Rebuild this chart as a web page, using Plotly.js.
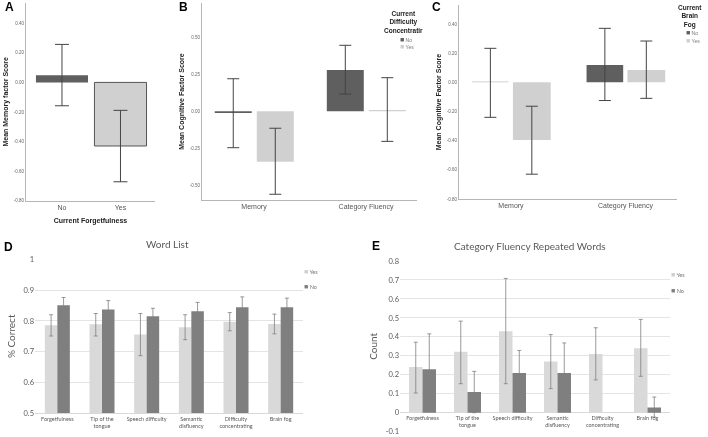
<!DOCTYPE html>
<html><head><meta charset="utf-8">
<script src="https://cdn.plot.ly/plotly-3.0.1.min.js"></script>
<style>body{margin:0;background:#fff}#chart{width:708px;height:437px;opacity:0.999;will-change:transform}</style>
</head><body><div id="chart"></div>
<script>
// ---------- data ----------
const catsA = ['No', 'Yes'];
const aMean = [0.048, -0.43];
const aHi = [0.257, -0.189];
const aLo = [-0.158, -0.672];

const catsBC = ['Memory', 'Category Fluency'];
const bNo = [-0.012, 0.28];
const bNoHi = [0.221, 0.448];
const bNoLo = [-0.247, 0.117];
const bYes = [-0.342, 0.009];
const bYesHi = [-0.115, 0.228];
const bYesLo = [-0.563, -0.204];

const cNo = [0.006, 0.119];
const cNoHi = [0.233, 0.37];
const cNoLo = [-0.24, -0.125];
const cYes = [-0.395, 0.085];
const cYesHi = [-0.164, 0.283];
const cYesLo = [-0.63, -0.11];

const cats6 = ['Forgetfulness', 'Tip of the<br>tongue', 'Speech difficulty', 'Semantic<br>disfluency', 'Difficulty<br>concentrating', 'Brain fog'];
const dYes = [0.786, 0.789, 0.756, 0.779, 0.797, 0.790];
const dYesHi = [0.820, 0.824, 0.824, 0.820, 0.827, 0.822];
const dYesLo = [0.751, 0.751, 0.687, 0.739, 0.768, 0.758];
const dNo = [0.851, 0.837, 0.815, 0.831, 0.844, 0.844];
const dNoHi = [0.876, 0.866, 0.841, 0.860, 0.878, 0.874];
const dNoLo = [0.825, 0.808, 0.786, 0.801, 0.814, 0.816];

const eYes = [0.241, 0.321, 0.430, 0.270, 0.310, 0.340];
const eYesHi = [0.372, 0.483, 0.708, 0.412, 0.448, 0.492];
const eYesLo = [0.104, 0.153, 0.153, 0.127, 0.173, 0.192];
const eNo = [0.229, 0.109, 0.210, 0.210, null, 0.028];
const eNoHi = [0.416, 0.218, 0.328, 0.368, null, 0.083];
const eNoLo = [0.042, 0.0, 0.092, 0.051, null, -0.023];

const tickA = [0.4, 0.2, 0, -0.2, -0.4, -0.6, -0.8];
const tickAText = ['0.40', '0.20', '0.00', '-0.20', '-0.40', '-0.60', '-0.80'];
const tickB = [0.5, 0.25, 0, -0.25, -0.5];
const tickBText = ['0.50', '0.25', '0.00', '-0.25', '-0.50'];
const tickD = [0.5, 0.6, 0.7, 0.8, 0.9, 1];
const tickDText = ['0.5', '0.6', '0.7', '0.8', '0.9', '1'];
const tickE = [-0.1, 0, 0.1, 0.2, 0.3, 0.4, 0.5, 0.6, 0.7, 0.8];
const tickEText = ['-0.1', '0', '0.1', '0.2', '0.3', '0.4', '0.5', '0.6', '0.7', '0.8'];

// ---------- helpers ----------
const W = 708, H = 437;
const px = x => x / W;
const py = y => 1 - y / H;
const plus = (hi, m) => hi.map((v, i) => v == null ? null : v - m[i]);
const minus = (lo, m) => lo.map((v, i) => v == null ? null : m[i] - v);
const err = (hi, lo, m, col, w, th) => ({type: 'data', symmetric: false, array: plus(hi, m), arrayminus: minus(lo, m), color: col, thickness: th, width: w});

const DARK = '#5f5f5f', LIGHT = '#d0d0d0';
const D_LIGHT = '#d9d9d9', D_DARK = '#7f7f7f';
const SPSS = 'Liberation Sans, Arial, sans-serif';
const XL = 'Lato, Open Sans, sans-serif';

const traces = [
  // A
  {type: 'bar', x: catsA, y: aMean, xaxis: 'x', yaxis: 'y', width: 0.89, showlegend: false,
   marker: {color: [DARK, LIGHT], line: {color: ['#5f5f5f', '#555'], width: [0, 1]}},
   error_y: err(aHi, aLo, aMean, '#444', 7, 1)},
  // B
  {type: 'bar', name: 'No', x: catsBC, y: bNo, xaxis: 'x2', yaxis: 'y2', offset: -0.35, width: 0.33, showlegend: false,
   marker: {color: DARK}, error_y: err(bNoHi, bNoLo, bNo, '#444', 6, 1)},
  {type: 'bar', name: 'Yes', x: catsBC, y: bYes, xaxis: 'x2', yaxis: 'y2', offset: 0.025, width: 0.33, showlegend: false,
   marker: {color: LIGHT}, error_y: err(bYesHi, bYesLo, bYes, '#444', 6, 1)},
  // C
  {type: 'bar', name: 'No', x: catsBC, y: cNo, xaxis: 'x3', yaxis: 'y3', offset: -0.34, width: 0.32, showlegend: false,
   marker: {color: ['#c4c4c4', DARK]}, error_y: err(cNoHi, cNoLo, cNo, '#444', 6, 1)},
  {type: 'bar', name: 'Yes', x: catsBC, y: cYes, xaxis: 'x3', yaxis: 'y3', offset: 0.017, width: 0.33, showlegend: false,
   marker: {color: LIGHT}, error_y: err(cYesHi, cYesLo, cYes, '#444', 6, 1)},
  // D
  {type: 'bar', name: 'Yes', x: cats6, y: dYes, xaxis: 'x4', yaxis: 'y4', offset: -0.28, width: 0.28, showlegend: false,
   marker: {color: D_LIGHT}, error_y: err(dYesHi, dYesLo, dYes, '#808080', 2, 0.8)},
  {type: 'bar', name: 'No', x: cats6, y: dNo, xaxis: 'x4', yaxis: 'y4', offset: 0.0, width: 0.28, showlegend: false,
   marker: {color: D_DARK}, error_y: err(dNoHi, dNoLo, dNo, '#808080', 2, 0.8)},
  // E
  {type: 'bar', name: 'Yes', x: cats6, y: eYes, xaxis: 'x5', yaxis: 'y5', offset: -0.3, width: 0.3, showlegend: false,
   marker: {color: D_LIGHT}, error_y: err(eYesHi, eYesLo, eYes, '#808080', 2, 0.8)},
  {type: 'bar', name: 'No', x: cats6, y: eNo, xaxis: 'x5', yaxis: 'y5', offset: 0.0, width: 0.3, showlegend: false,
   marker: {color: D_DARK}, error_y: err(eNoHi, eNoLo, eNo, '#808080', 2, 0.8)}
];

const spssX = (dom, range, anchor, title) => ({
  domain: dom, range: range, anchor: anchor, type: 'category', showgrid: false, zeroline: false,
  showline: true, linecolor: '#b5b5b5', linewidth: 1, ticks: '', fixedrange: true,
  tickfont: {family: SPSS, size: 7, color: '#555'},
  title: title ? {text: title, font: {family: SPSS, size: 7, color: '#222', weight: 'bold'}, standoff: 8} : undefined
});
const spssY = (dom, range, anchor, tv, tt, title) => ({
  domain: dom, range: range, anchor: anchor, showgrid: false, zeroline: false,
  showline: true, linecolor: '#b5b5b5', linewidth: 1, ticks: '', fixedrange: true,
  tickvals: tv, ticktext: tt, tickfont: {family: SPSS, size: 4.5, color: '#666'},
  title: {text: title, font: {family: SPSS, size: 7, color: '#222', weight: 'bold'}, standoff: 4}
});

const sq = (col) => '<span style="color:' + col + ';font-size:7px">■</span>';

const layout = {
  width: W, height: H, margin: {l: 0, r: 0, t: 0, b: 0},
  paper_bgcolor: '#fff', plot_bgcolor: 'rgba(0,0,0,0)',
  barmode: 'overlay', showlegend: false,
  xaxis: spssX([px(26), px(155)], [-0.615, 1.59], 'y', 'Current Forgetfulness'),
  yaxis: spssY([py(200.7), py(3)], [-0.8, 0.537], 'x', tickA, tickAText, 'Mean Memory factor Score'),
  xaxis2: spssX([px(202), px(417)], [-0.464, 1.455], 'y2'),
  yaxis2: spssY([py(200), py(3)], [-0.602, 0.735], 'x2', tickB, tickBText, 'Mean Cognitive Factor Score'),
  xaxis3: spssX([px(459), px(677)], [-0.454, 1.45], 'y3'),
  yaxis3: spssY([py(199), py(5)], [-0.8, 0.53], 'x3', tickA, tickAText, 'Mean Cognitive Factor Score'),
  xaxis4: {domain: [px(35), px(303)], range: [-0.5, 5.5], anchor: 'y4', type: 'category', showgrid: false,
    showline: true, linecolor: '#d9d9d9', ticks: '', fixedrange: true,
    tickfont: {family: XL, size: 5.5, color: '#595959'}},
  yaxis4: {domain: [py(413.3), py(259.3)], range: [0.5, 1], anchor: 'x4', showgrid: true, gridcolor: '#e4e4e4',
    zeroline: false, showline: false, ticks: '', fixedrange: true, tickvals: tickD, ticktext: tickDText,
    tickfont: {family: XL, size: 7.5, color: '#595959'},
    title: {text: '% Correct', font: {family: XL, size: 10, color: '#595959'}, standoff: 6}},
  xaxis5: {domain: [px(400), px(670)], range: [-0.5, 5.5], anchor: 'free', position: py(413.5), type: 'category',
    showgrid: false, showline: false, ticks: '', fixedrange: true,
    tickfont: {family: XL, size: 5.5, color: '#595959'}},
  yaxis5: {domain: [py(431.7), py(261)], range: [-0.1, 0.8], anchor: 'x5', showgrid: true, gridcolor: '#e4e4e4',
    zeroline: true, zerolinecolor: '#d9d9d9', zerolinewidth: 1, showline: false, ticks: '', fixedrange: true,
    tickvals: tickE, ticktext: tickEText,
    tickfont: {family: XL, size: 7.5, color: '#595959'},
    title: {text: 'Count', font: {family: XL, size: 10, color: '#595959'}, standoff: 6}},
  annotations: [
    // panel letters
    {text: '<b>A</b>', x: px(3), y: py(7), xref: 'paper', yref: 'paper', xanchor: 'left', yanchor: 'middle', showarrow: false, font: {family: SPSS, size: 12, color: '#000'}},
    {text: '<b>B</b>', x: px(177), y: py(7), xref: 'paper', yref: 'paper', xanchor: 'left', yanchor: 'middle', showarrow: false, font: {family: SPSS, size: 12, color: '#000'}},
    {text: '<b>C</b>', x: px(430), y: py(7), xref: 'paper', yref: 'paper', xanchor: 'left', yanchor: 'middle', showarrow: false, font: {family: SPSS, size: 12, color: '#000'}},
    {text: '<b>D</b>', x: px(2), y: py(247), xref: 'paper', yref: 'paper', xanchor: 'left', yanchor: 'middle', showarrow: false, font: {family: SPSS, size: 12, color: '#000'}},
    {text: '<b>E</b>', x: px(370), y: py(246), xref: 'paper', yref: 'paper', xanchor: 'left', yanchor: 'middle', showarrow: false, font: {family: SPSS, size: 12, color: '#000'}},
    // chart titles D/E
    {text: 'Word List', x: px(167), y: py(244), xref: 'paper', yref: 'paper', xanchor: 'center', yanchor: 'middle', showarrow: false, font: {family: XL, size: 10, color: '#595959'}},
    {text: 'Category Fluency Repeated Words', x: px(530), y: py(246), xref: 'paper', yref: 'paper', xanchor: 'center', yanchor: 'middle', showarrow: false, font: {family: XL, size: 10, color: '#595959'}},
    // legend B
    {text: '<b>Current<br>Difficulty<br>Concentratir</b>', x: px(403), y: py(22), xref: 'paper', yref: 'paper', xanchor: 'center', yanchor: 'middle', showarrow: false, font: {family: SPSS, size: 6.5, color: '#222'}},
    {text: sq('#5f5f5f') + ' No', x: px(398), y: py(39), xref: 'paper', yref: 'paper', xanchor: 'left', yanchor: 'middle', showarrow: false, font: {family: SPSS, size: 5, color: '#777'}},
    {text: sq('#d0d0d0') + ' Yes', x: px(398), y: py(46.5), xref: 'paper', yref: 'paper', xanchor: 'left', yanchor: 'middle', showarrow: false, font: {family: SPSS, size: 5, color: '#777'}},
    // legend C
    {text: '<b>Current<br>Brain<br>Fog</b>', x: px(690), y: py(17), xref: 'paper', yref: 'paper', xanchor: 'center', yanchor: 'middle', showarrow: false, font: {family: SPSS, size: 6.5, color: '#222'}},
    {text: sq('#5f5f5f') + ' No', x: px(684), y: py(33), xref: 'paper', yref: 'paper', xanchor: 'left', yanchor: 'middle', showarrow: false, font: {family: SPSS, size: 5, color: '#777'}},
    {text: sq('#d0d0d0') + ' Yes', x: px(684), y: py(40.5), xref: 'paper', yref: 'paper', xanchor: 'left', yanchor: 'middle', showarrow: false, font: {family: SPSS, size: 5, color: '#777'}},
    // legend D
    {text: sq('#cfcfcf') + ' Yes', x: px(302), y: py(270.5), xref: 'paper', yref: 'paper', xanchor: 'left', yanchor: 'middle', showarrow: false, font: {family: XL, size: 5.5, color: '#777'}},
    {text: sq('#7f7f7f') + ' No', x: px(302), y: py(286), xref: 'paper', yref: 'paper', xanchor: 'left', yanchor: 'middle', showarrow: false, font: {family: XL, size: 5.5, color: '#777'}},
    // legend E
    {text: sq('#cfcfcf') + ' Yes', x: px(669), y: py(274), xref: 'paper', yref: 'paper', xanchor: 'left', yanchor: 'middle', showarrow: false, font: {family: XL, size: 5.5, color: '#777'}},
    {text: sq('#7f7f7f') + ' No', x: px(669), y: py(289.5), xref: 'paper', yref: 'paper', xanchor: 'left', yanchor: 'middle', showarrow: false, font: {family: XL, size: 5.5, color: '#777'}}
  ]
};

Plotly.newPlot('chart', traces, layout, {displayModeBar: false, staticPlot: true});
</script>
</body></html>
